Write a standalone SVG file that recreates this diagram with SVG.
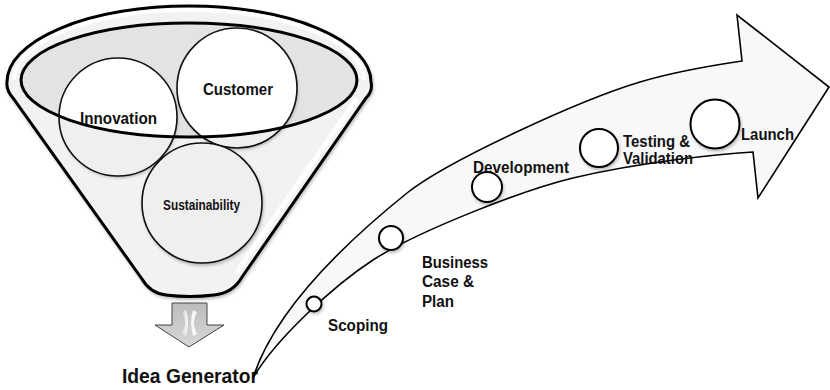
<svg xmlns="http://www.w3.org/2000/svg" width="830" height="390" viewBox="0 0 830 390">
<defs>
<style>
.lbl{font-family:"Liberation Sans",Arial,sans-serif;font-weight:bold;fill:#111}
.l16{font-size:16px}
.thick{fill:none;stroke:#000;stroke-width:3}
.circ{stroke:#111;stroke-width:1.6}
.stage{fill:#fff;stroke:#000;stroke-width:2}
</style>
<clipPath id="innerClip"><ellipse cx="189" cy="80" rx="168" ry="57"/></clipPath>
<filter id="sh" x="-20%" y="-20%" width="140%" height="150%"><feDropShadow dx="1" dy="2" stdDeviation="1.5" flood-color="#000" flood-opacity="0.25"/></filter>
<linearGradient id="dArrow" x1="0" y1="0" x2="0" y2="1"><stop offset="0" stop-color="#bcbcbc"/><stop offset="1" stop-color="#d8d8d8"/></linearGradient>
<linearGradient id="hl" x1="0" y1="0" x2="1" y2="0"><stop offset="0" stop-color="#fff" stop-opacity="0.2"/><stop offset="1" stop-color="#fff" stop-opacity="0.95"/></linearGradient>
</defs>

<g id="funnel">
<path d="M7,82 A182,76 0 0 1 371,82 Q373,91 366,98 L242,277 Q233,293 214,295 Q190,298 166,295 Q150,293 142,279 L13,98 Q6,90 7,82 Z" fill="#f2f2f2" stroke="#000" stroke-width="3" filter="url(#sh)"/>
<path d="M14,80 A175,70 0 0 1 364,80" fill="none" stroke="#fff" stroke-width="4" opacity="0.9"/>
<path d="M356,100 L238,270" fill="none" stroke="#fff" stroke-width="5" opacity="0.9" stroke-linecap="round"/>
<ellipse cx="189" cy="80" rx="168" ry="57" fill="#e3e3e3"/>
</g>

<g id="innovation">
<circle cx="118" cy="117" r="59" fill="#efefef" filter="url(#sh)"/>
<circle cx="118" cy="117" r="59" fill="#fff" clip-path="url(#innerClip)"/>
<circle cx="118" cy="117" r="59" fill="none" class="circ"/>
</g>
<g id="customer">
<circle cx="237" cy="88" r="60" fill="#efefef" filter="url(#sh)"/>
<circle cx="237" cy="88" r="60" fill="#fff" clip-path="url(#innerClip)"/>
<circle cx="237" cy="88" r="60" fill="none" class="circ"/>
</g>
<g id="sustainability">
<circle cx="202" cy="203" r="60" fill="#efefef" class="circ" filter="url(#sh)"/>
</g>
<ellipse id="funnel-rim" cx="189" cy="80" rx="168" ry="57" class="thick"/>
<text class="lbl" x="80" y="124" font-size="17" textLength="77" lengthAdjust="spacingAndGlyphs">Innovation</text>
<text class="lbl" x="203" y="95" font-size="17" textLength="70" lengthAdjust="spacingAndGlyphs">Customer</text>
<text class="lbl" x="163" y="210" font-size="14" textLength="77" lengthAdjust="spacingAndGlyphs">Sustainability</text>

<g id="down-arrow">
<polygon points="172,303 207,303 207,325 224,325 189,347 155,325 172,325" fill="url(#dArrow)" stroke="#444" stroke-width="1"/>
<path d="M182,312 Q188,322 182,334 L186,336 Q190,322 186,310 Z" fill="url(#hl)"/>
<path d="M197,312 Q191,322 197,334 L193,336 Q189,322 193,310 Z" fill="#fff" opacity="0.85"/>
</g>
<g id="idea-generator">
<text class="lbl" x="122" y="383" font-size="21" textLength="136" lengthAdjust="spacingAndGlyphs">Idea Generator</text>
</g>

<g id="connectors">
<path id="progress-arrow" d="M253,378 C272,318 330,255 407,193 C447,161 580,100 640,82 C670,73 715,65 742,61 L737,15 L829,87 L758,198 L753,152 C720,154 640,162 573,178 C523,190 418,231 373,260 C333,286 275,340 253,378 Z" fill="#f8f8f8" stroke="#000" stroke-width="1.6" stroke-linejoin="miter"/>
</g>

<g id="scoping">
<circle cx="314" cy="304" r="7.5" class="stage" filter="url(#sh)"/>
<text class="lbl l16" x="328" y="331" textLength="60" lengthAdjust="spacingAndGlyphs">Scoping</text>
</g>
<g id="business-case">
<circle cx="391" cy="238" r="12" class="stage" filter="url(#sh)"/>
<text class="lbl l16" x="422" y="268" textLength="66" lengthAdjust="spacingAndGlyphs">Business</text>
<text class="lbl l16" x="422" y="287" textLength="52" lengthAdjust="spacingAndGlyphs">Case &amp;</text>
<text class="lbl l16" x="422" y="307" textLength="32" lengthAdjust="spacingAndGlyphs">Plan</text>
</g>
<g id="development">
<circle cx="487" cy="187" r="15" class="stage" filter="url(#sh)"/>
<text class="lbl l16" x="473" y="173" textLength="96" lengthAdjust="spacingAndGlyphs">Development</text>
</g>
<g id="testing">
<circle cx="599" cy="148" r="19" class="stage" filter="url(#sh)"/>
<text class="lbl l16" x="623" y="147" textLength="67" lengthAdjust="spacingAndGlyphs">Testing &amp;</text>
<text class="lbl l16" x="623" y="164" textLength="70" lengthAdjust="spacingAndGlyphs">Validation</text>
</g>
<g id="launch">
<circle cx="715" cy="124" r="24.5" class="stage" filter="url(#sh)"/>
<text class="lbl l16" x="741" y="140" textLength="53" lengthAdjust="spacingAndGlyphs">Launch</text>
</g>
</svg>
